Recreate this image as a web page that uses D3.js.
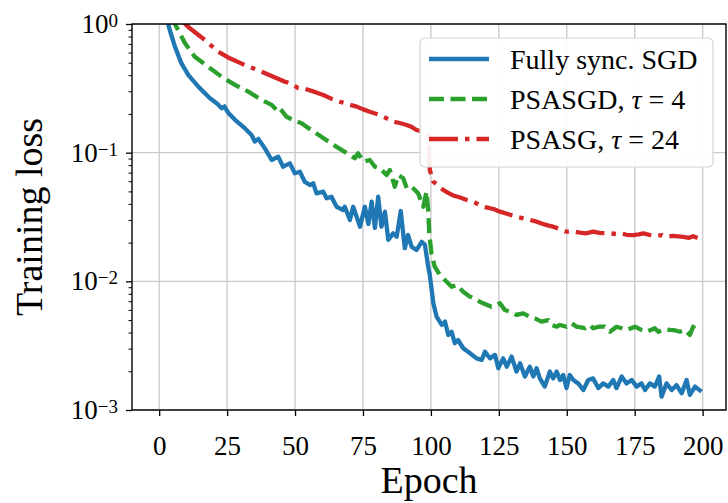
<!DOCTYPE html>
<html>
<head>
<meta charset="utf-8">
<script src="https://cdn.jsdelivr.net/npm/d3@7"></script>
<style>
  html, body { margin: 0; padding: 0; background: #fff; }
  svg { display: block; }
  text { font-family: "Liberation Serif", "DejaVu Serif", serif; fill: #000; }
</style>
</head>
<body>
<svg id="chart" width="728" height="503"></svg>
<script>
// ---- Data ----
const seriesNames = ["Fully sync. SGD", "PSASGD, τ = 4", "PSASG, τ = 24"];

const blueEpoch = [2.5, 3.3, 3.9, 5.8, 8.2, 10.7, 14.4, 18.7, 21.5, 23, 24, 25.5, 27.9, 31.5, 34, 35.2, 36.5, 38.9, 41.4, 43.8, 45.6, 48.1, 49.9, 51.8, 53.6, 55.5, 56.7, 57.9, 60.4, 61.6, 63.4, 65.3, 67.7, 68.3, 70.2, 71.4, 73.9, 75.7, 77, 78.2, 79.4, 80.6, 81.8, 83.1, 84.3, 86.1, 87.4, 88.9, 90.4, 91.6, 92.9, 94.7, 96.6, 97.8, 99, 99.6, 100.9, 102.1, 104, 105.2, 106.4, 107.6, 108.8, 110, 111.9, 114.4, 116.8, 118.7, 119.9, 121.7, 123.6, 124.8, 126.6, 127.9, 129.7, 131.5, 132.8, 134.6, 136.4, 137.7, 138.9, 140.1, 141.9, 143.8, 145, 146.3, 147.5, 148.7, 149.9, 151.1, 152.4, 154.2, 156.1, 157.9, 159.7, 161.6, 163.4, 165.3, 167.1, 168.3, 170.2, 172, 173.9, 175.7, 177.5, 178.8, 180.6, 182.4, 184, 184.9, 186.7, 188.6, 190.4, 192.3, 194.1, 195.3, 197.2, 199.6];
const blueLoss = [1.15, 1.0, 0.898, 0.667, 0.494, 0.402, 0.326, 0.265, 0.239, 0.221, 0.229, 0.203, 0.180, 0.155, 0.137, 0.122, 0.128, 0.108, 0.0877, 0.0931, 0.0778, 0.0826, 0.0691, 0.0711, 0.0592, 0.0561, 0.0578, 0.0483, 0.0498, 0.0442, 0.0455, 0.0380, 0.0358, 0.0380, 0.0300, 0.0380, 0.0266, 0.0380, 0.0279, 0.0416, 0.0260, 0.0455, 0.0266, 0.0348, 0.0210, 0.0236, 0.0222, 0.0352, 0.0181, 0.0229, 0.0186, 0.0175, 0.0203, 0.0192, 0.0130, 0.0112, 0.00675, 0.00531, 0.00458, 0.00486, 0.00383, 0.00406, 0.00330, 0.00350, 0.00302, 0.00276, 0.00252, 0.00245, 0.00284, 0.00252, 0.00268, 0.00211, 0.00252, 0.00217, 0.00260, 0.00199, 0.00231, 0.00182, 0.00217, 0.00182, 0.00211, 0.00176, 0.00152, 0.00199, 0.00176, 0.00199, 0.00171, 0.00187, 0.00148, 0.00187, 0.00171, 0.00161, 0.00143, 0.00171, 0.00176, 0.00148, 0.00161, 0.00152, 0.00171, 0.00148, 0.00182, 0.00161, 0.00171, 0.00152, 0.00161, 0.00143, 0.00161, 0.00152, 0.00182, 0.00127, 0.00161, 0.00143, 0.00156, 0.00135, 0.00171, 0.00131, 0.00152, 0.00139];

const greenEpoch = [4.8, 5.8, 9.5, 13.1, 18, 23, 27.9, 32.8, 37.7, 41.4, 43.5, 44.4, 46.9, 49.9, 52.4, 54.2, 57.9, 61.6, 65.3, 67.1, 70.2, 72, 73.2, 75.1, 77.5, 79.4, 81.2, 83.7, 84.9, 86.7, 88, 89.8, 91.1, 92.9, 95.3, 97.2, 98.4, 99, 99.4, 100.2, 101.4, 103.3, 105.8, 107.6, 109.5, 111.9, 114.4, 116.8, 119.2, 122.3, 125.4, 127.2, 129.1, 131.5, 134, 136.4, 138.3, 140.7, 143.2, 144.4, 146.3, 147.5, 149.9, 151.8, 153.6, 156.7, 158.5, 159.7, 162, 164, 165.9, 168.3, 170.2, 172, 175.1, 177.5, 179.4, 182.4, 183.7, 186, 188, 190, 191.6, 193.5, 195.3, 196.5, 197.7];
const greenLoss = [1.15, 1.0, 0.708, 0.557, 0.466, 0.389, 0.336, 0.298, 0.257, 0.235, 0.212, 0.221, 0.190, 0.177, 0.169, 0.159, 0.141, 0.125, 0.111, 0.105, 0.0959, 0.0904, 0.0989, 0.0851, 0.0877, 0.0778, 0.0756, 0.0670, 0.0733, 0.0544, 0.0670, 0.0632, 0.0529, 0.0544, 0.0483, 0.0380, 0.0498, 0.0358, 0.0236, 0.0165, 0.0130, 0.0112, 0.00993, 0.00908, 0.00937, 0.00830, 0.00760, 0.00716, 0.00675, 0.00635, 0.00675, 0.00598, 0.00581, 0.00548, 0.00564, 0.00531, 0.00515, 0.00486, 0.00500, 0.00458, 0.00444, 0.00458, 0.00444, 0.00472, 0.00444, 0.00432, 0.00458, 0.00432, 0.00444, 0.00444, 0.00406, 0.00444, 0.00432, 0.00419, 0.00444, 0.00419, 0.00406, 0.00432, 0.00406, 0.00425, 0.00419, 0.00415, 0.00406, 0.00419, 0.00383, 0.00444, 0.00419];

const redEpoch = [8.5, 11.3, 16.8, 21.7, 26, 31.5, 37.7, 42, 46.3, 48.1, 51.2, 53, 57, 60.4, 63.5, 66.5, 69.5, 72.7, 75.1, 77.5, 80, 82.5, 84.5, 86.1, 88.5, 91.1, 93, 94.7, 97, 99, 99.6, 100.9, 103.3, 104.5, 106.5, 108.2, 110.5, 113, 115.6, 119.2, 121.7, 123.5, 125.4, 128, 131.5, 134, 136.5, 138.9, 141, 143, 145, 147.5, 149.9, 152, 154.8, 157, 159.7, 162, 165.9, 168.3, 170, 172, 174.5, 176.5, 178.2, 180.6, 183.1, 185, 186.7, 189, 191, 192.9, 195, 196.5, 198.4];
const redLoss = [1.05, 0.926, 0.751, 0.610, 0.541, 0.480, 0.426, 0.389, 0.356, 0.346, 0.318, 0.316, 0.298, 0.281, 0.262, 0.249, 0.238, 0.228, 0.217, 0.208, 0.200, 0.190, 0.182, 0.174, 0.170, 0.164, 0.158, 0.150, 0.146, 0.140, 0.0733, 0.0595, 0.0540, 0.0513, 0.0485, 0.0465, 0.0450, 0.0430, 0.0416, 0.0380, 0.0370, 0.0362, 0.0348, 0.0335, 0.0318, 0.0309, 0.0300, 0.0291, 0.0280, 0.0272, 0.0266, 0.0255, 0.0243, 0.0245, 0.0239, 0.0236, 0.0243, 0.0238, 0.0236, 0.0233, 0.0236, 0.0230, 0.0229, 0.0232, 0.0236, 0.0229, 0.0226, 0.0229, 0.0222, 0.0226, 0.0224, 0.0222, 0.0218, 0.0224, 0.0216];

const xTicks = [0, 25, 50, 75, 100, 125, 150, 175, 200];
const yTicks = [1e-3, 1e-2, 1e-1, 1];
const yTickExp = ["−3", "−2", "−1", "0"];

// ---- Layout ----
const svg = d3.select("#chart");
const L = 132, R = 726, T = 24, B = 410;
const x = d3.scaleLinear().domain([-10, 208.6]).range([L, R]);
const y = d3.scaleLog().domain([1e-3, 1]).range([B, T]);

const colors = ["#1f77b4", "#2ca02c", "#d62728"];
const dashes = [null, "15,6.5", "29,7,4.5,7"];
const lw = 4.3;

svg.append("defs").append("clipPath").attr("id", "plotclip")
  .append("rect").attr("x", L).attr("y", T).attr("width", R - L).attr("height", B - T);

// grid
const grid = svg.append("g").attr("stroke", "#cbcbcb").attr("stroke-width", 1.4);
xTicks.forEach(t => grid.append("line").attr("x1", x(t)).attr("x2", x(t)).attr("y1", T).attr("y2", B));
yTicks.forEach(t => grid.append("line").attr("x1", L).attr("x2", R).attr("y1", y(t)).attr("y2", y(t)));

// lines
const series = [
  d3.zip(blueEpoch, blueLoss),
  d3.zip(greenEpoch, greenLoss),
  d3.zip(redEpoch, redLoss)
];
const line = d3.line().x(d => x(d[0])).y(d => y(d[1]));
const lg = svg.append("g").attr("clip-path", "url(#plotclip)");
[2, 1, 0].forEach(i => {
  lg.append("path").datum(series[i])
    .attr("d", line)
    .attr("fill", "none")
    .attr("stroke", colors[i])
    .attr("stroke-width", lw)
    .attr("stroke-linejoin", "round")
    .attr("stroke-dasharray", dashes[i]);
});

// axes
const xAxis = d3.axisBottom(x).tickValues(xTicks).tickSize(6).tickPadding(18).tickFormat(d3.format("d"));
const gx = svg.append("g").attr("transform", `translate(0,${B})`).call(xAxis);
gx.select(".domain").remove();
gx.selectAll(".tick line").attr("stroke", "#000").attr("stroke-width", 1.3);
gx.selectAll(".tick text").attr("font-size", 27).attr("font-family", "Liberation Serif, serif").attr("fill", "#000").attr("dy", "0.78em");

const minorTicks = [];
for (let e = -3; e < 0; e++) for (let m = 2; m <= 9; m++) minorTicks.push(m * Math.pow(10, e));
const yAxisMinor = d3.axisLeft(y).tickValues(minorTicks).tickSize(3.5).tickFormat("");
const gym = svg.append("g").attr("transform", `translate(${L},0)`).call(yAxisMinor);
gym.select(".domain").remove();
gym.selectAll(".tick line").attr("stroke", "#000").attr("stroke-width", 1);

const yAxis = d3.axisLeft(y).tickValues(yTicks).tickSize(6).tickFormat("");
const gy = svg.append("g").attr("transform", `translate(${L},0)`).call(yAxis);
gy.select(".domain").remove();
gy.selectAll(".tick line").attr("stroke", "#000").attr("stroke-width", 1.3);

// y tick labels as 10^k
yTicks.forEach((t, i) => {
  const txt = svg.append("text")
    .attr("x", 118).attr("y", y(t) + 9)
    .attr("text-anchor", "end")
    .attr("font-size", 27);
  txt.append("tspan").text("10");
  txt.append("tspan").attr("font-size", 19).attr("dy", -6).text(yTickExp[i]);
});

// frame
svg.append("rect").attr("x", L).attr("y", T).attr("width", R - L).attr("height", B - T)
  .attr("fill", "none").attr("stroke", "#000").attr("stroke-width", 1.4);

// axis titles
svg.append("text").attr("x", (L + R) / 2).attr("y", 493)
  .attr("text-anchor", "middle").attr("font-size", 38).text("Epoch");
svg.append("text").attr("transform", `translate(42,${(T + B) / 2}) rotate(-90)`)
  .attr("text-anchor", "middle").attr("font-size", 38).text("Training loss");

// legend
const leg = svg.append("g");
leg.append("rect").attr("x", 420).attr("y", 38).attr("width", 293).attr("height", 129)
  .attr("rx", 5).attr("fill", "#fff").attr("fill-opacity", 0.92)
  .attr("stroke", "#d4d4d4").attr("stroke-width", 1.2);
const rows = [59, 99, 139];
const legText = [
  [["Fully sync. SGD", false]],
  [["PSASGD, ", false], ["τ", true], [" = 4", false]],
  [["PSASG, ", false], ["τ", true], [" = 24", false]]
];
rows.forEach((ry, i) => {
  leg.append("line").attr("x1", 429).attr("x2", 489).attr("y1", ry).attr("y2", ry)
    .attr("stroke", colors[i]).attr("stroke-width", lw).attr("stroke-dasharray", dashes[i]);
  const t = leg.append("text").attr("x", 510).attr("y", ry + 10).attr("font-size", 28)
    .attr("xml:space", "preserve").style("white-space", "pre");
  legText[i].forEach(([s, it]) => {
    const sp = t.append("tspan").text(s);
    if (it) sp.attr("font-style", "italic");
  });
});
</script>
</body>
</html>
